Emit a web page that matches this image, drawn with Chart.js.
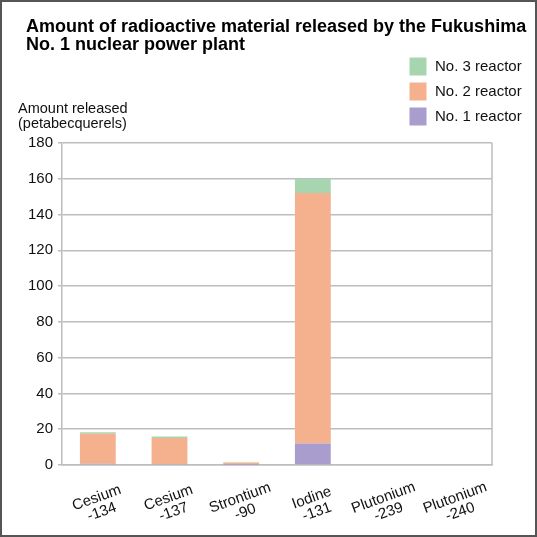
<!DOCTYPE html>
<html>
<head>
<meta charset="utf-8">
<script src="https://cdn.jsdelivr.net/npm/chart.js@4"></script>
<style>
  html, body { margin: 0; padding: 0; background: #fff; }
  #wrap { width: 537px; height: 537px; position: relative; }
</style>
</head>
<body>
<div id="wrap"><canvas id="chart"></canvas></div>
<script>
// data (petabecquerels)
const categories = [['Cesium', '-134'], ['Cesium', '-137'], ['Strontium', '-90'], ['Iodine', '-131'], ['Plutonium', '-239'], ['Plutonium', '-240']];
const reactor1 = [0.7, 0.6, 0.02, 12, 0, 0];
const reactor2 = [16.7, 14.5, 1.3, 140, 0, 0];
const reactor3 = [0.9, 0.8, 0.2, 8, 0, 0];
const seriesNames = ['No. 1 reactor', 'No. 2 reactor', 'No. 3 reactor'];
const seriesColors = ['#a89dcd', '#f5b08e', '#a7d5af'];
const titleLines = ['Amount of radioactive material released by the Fukushima', 'No. 1 nuclear power plant'];
const yLabelLines = ['Amount released', '(petabecquerels)'];
const yMax = 180;
const yStep = 20;

const FONT = '"Liberation Sans", Arial, sans-serif';
const GRID = '#bdbdbd';

const decor = {
  id: 'decor',
  afterDraw(chart) {
    const ctx = chart.ctx;
    const area = chart.chartArea;
    const xs = chart.scales.x;
    ctx.save();

    // right border of plot area
    ctx.strokeStyle = GRID;
    ctx.lineWidth = 1.5;
    ctx.beginPath();
    ctx.moveTo(area.right, area.top);
    ctx.lineTo(area.right, area.bottom);
    ctx.stroke();

    // title
    ctx.fillStyle = '#000';
    ctx.textAlign = 'left';
    ctx.textBaseline = 'alphabetic';
    ctx.font = 'bold 18px ' + FONT;
    titleLines.forEach((t, i) => ctx.fillText(t, 26, 31.5 + i * 18.5));

    // y axis label
    ctx.fillStyle = '#111';
    ctx.font = '14.5px ' + FONT;
    yLabelLines.forEach((t, i) => ctx.fillText(t, 18, 113 + i * 14.5));

    // legend, top series first
    ctx.font = '15px ' + FONT;
    ctx.textBaseline = 'middle';
    for (let i = seriesNames.length - 1, row = 0; i >= 0; i--, row++) {
      const y = 57.5 + row * 25;
      ctx.fillStyle = seriesColors[i];
      ctx.fillRect(409.5, y, 17, 18);
      ctx.fillStyle = '#111';
      ctx.fillText(seriesNames[i], 435, y + 9.5);
    }

    // rotated category labels
    ctx.font = '15px ' + FONT;
    ctx.textAlign = 'center';
    ctx.fillStyle = '#111';
    categories.forEach((lines, i) => {
      const x = xs.getPixelForTick(i) + 1.5;
      ctx.save();
      ctx.translate(x, area.bottom + 40);
      ctx.rotate(-20 * Math.PI / 180);
      lines.forEach((t, j) => ctx.fillText(t, 0, (j - (lines.length - 1) / 2) * 15));
      ctx.restore();
    });

    // outer frame
    ctx.strokeStyle = '#555';
    ctx.lineWidth = 2;
    ctx.strokeRect(1, 1, chart.width - 2, chart.height - 2);
    ctx.restore();
  }
};

const datasets = [reactor1, reactor2, reactor3].map((vals, i) => ({
  label: seriesNames[i],
  data: vals,
  backgroundColor: seriesColors[i],
  borderWidth: 0,
  barPercentage: 0.5,
  categoryPercentage: 1.0
}));

new Chart(document.getElementById('chart').getContext('2d'), {
  type: 'bar',
  data: { labels: categories, datasets: datasets },
  options: {
    responsive: true,
    maintainAspectRatio: false,
    animation: false,
    layout: { padding: { top: 143, right: 45, left: 0, bottom: 0 } },
    plugins: { legend: { display: false }, tooltip: { enabled: false } },
    scales: {
      x: {
        stacked: true,
        grid: { display: false },
        border: { display: true, color: GRID, width: 1.5 },
        ticks: { display: false },
        afterFit(scale) { scale.height = 72; }
      },
      y: {
        stacked: true,
        min: 0,
        max: yMax,
        ticks: {
          stepSize: yStep,
          padding: 5,
          color: '#111',
          font: { family: FONT, size: 15 }
        },
        grid: { color: GRID, lineWidth: 1.5, tickLength: 4 },
        border: { display: true, color: GRID, width: 1.5 },
        afterFit(scale) { scale.width = 62; }
      }
    }
  },
  plugins: [decor]
});
</script>
</body>
</html>
